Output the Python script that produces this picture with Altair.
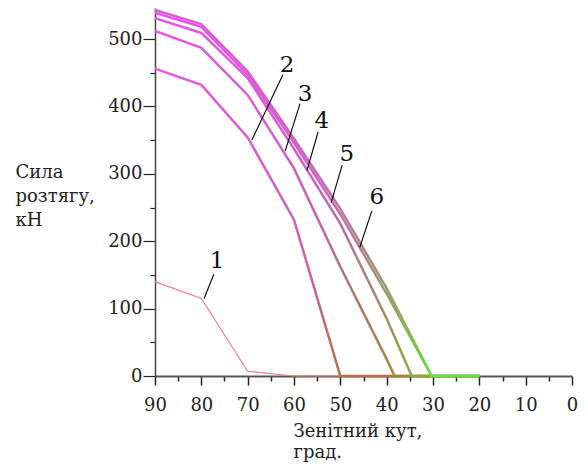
import altair as alt
import pandas as pd

# ---- data ----
angles_1 = [90, 80, 70, 60, 20]
force_1 = [140, 115, 7, 0, 0]

angles_2 = [90, 80, 70, 60, 50, 20]
force_2 = [456, 432, 354, 232, 0, 0]

angles_3 = [90, 80, 70, 60, 50, 40, 38.3, 20]
force_3 = [512, 487, 417, 308, 162, 25, 0, 0]

angles_4 = [90, 80, 70, 60, 50, 40, 34.6, 20]
force_4 = [531, 509, 442, 337, 226, 85, 0, 0]

angles_5 = [90, 80, 70, 60, 50, 40, 30.3, 20]
force_5 = [539, 518, 447, 346, 240, 122, 0, 0]

angles_6 = [90, 80, 70, 60, 50, 40, 30.3, 20]
force_6 = [543, 522, 452, 352, 248, 130, 0, 0]

label_text = ["1", "2", "3", "4", "5", "6"]
label_angle = [76.6, 61.5, 57.6, 54.0, 48.6, 42.1]
label_force = [170, 462, 419, 378, 329, 265]
leader_angle_a = [77.3, 62.4, 58.7, 54.8, 49.6, 43.2]
leader_force_a = [151, 447, 404, 362, 313, 245]
leader_angle_b = [79.4, 69.1, 61.9, 57.2, 52.0, 45.8]
leader_force_b = [115, 350, 334, 305, 257, 191]

SERIF = "DejaVu Serif"

x_axis = alt.Axis(
    values=list(range(0, 91, 5)),
    labelExpr="datum.value % 10 === 0 ? datum.label : ''",
    tickSize={"condition": {"test": "datum.value % 10 !== 0", "value": 5}, "value": 9},
    tickColor="#222", tickWidth=1.5,
    domainColor="#555", domainWidth=2,
    grid=False,
    labelFont=SERIF, labelFontSize=18, labelColor="#222", labelPadding=11,
    labelFlush=False,
    title=["Зенітний кут,", "град."],
    titleFont=SERIF, titleFontSize=18, titleFontWeight="normal", titleColor="#222",
    titleAlign="left", titleAnchor="start", titleBaseline="alphabetic",
    titleX=138, titleY=60, titleLineHeight=21,
)
y_axis = alt.Axis(
    values=list(range(0, 501, 50)),
    labelExpr="datum.value % 100 === 0 ? datum.label : ''",
    tickSize={"condition": {"test": "datum.value % 100 !== 0", "value": 5}, "value": 12},
    tickColor="#222", tickWidth=1.2,
    domainColor="#444", domainWidth=1.5,
    grid=False,
    labelFont=SERIF, labelFontSize=18, labelColor="#222", labelPadding=1,
    labelFlush=False,
    title=["Сила", "розтягу,", "\u2002кН"],
    titleFont=SERIF, titleFontSize=18, titleFontWeight="normal", titleColor="#222",
    titleAngle=0, titleAlign="left", titleAnchor="start", titleBaseline="alphabetic",
    titleX=-140, titleY=169, titleLineHeight=24,
)

xs = alt.Scale(domain=[0, 90], reverse=True, nice=False, zero=False)
ys = alt.Scale(domain=[0, 546], nice=False)
X = alt.X("angle:Q", scale=xs, axis=x_axis)
Y = alt.Y("force:Q", scale=ys, axis=y_axis)


def grad(stops):
    return alt.Gradient(
        gradient="linear",
        stops=[alt.GradientStop(color=c, offset=o) for o, c in stops],
        x1=0, x2=0, y1=0, y2=1,
    )


series = [
    (angles_1, force_1, None, 1.2),
    (angles_2, force_2, [(0, "#e457e4"), (0.5, "#d25fc0"), (0.8, "#c2687e"), (1, "#b8703c")], 2.5),
    (angles_3, force_3, [(0, "#e457e4"), (0.45, "#cc5fc0"), (0.8, "#ad7668"), (1, "#a08a3c")], 2.5),
    (angles_4, force_4, [(0, "#e457e4"), (0.45, "#cc5fc0"), (0.8, "#a2886a"), (1, "#92a83c")], 2.5),
    (angles_5, force_5, [(0, "#e457e4"), (0.45, "#cc62c0"), (0.78, "#9a9a68"), (1, "#66e03c")], 2.5),
    (angles_6, force_6, [(0, "#e457e4"), (0.45, "#cc62c0"), (0.78, "#9a9a68"), (1, "#66e03c")], 2.5),
]

layers = []
for a, f, stops, w in series:
    df = pd.DataFrame({"angle": a, "force": f})
    if stops is None:
        mk = alt.Chart(df).mark_line(stroke="#f07f7f", strokeWidth=w)
    else:
        mk = alt.Chart(df).mark_line(stroke=grad(stops), strokeWidth=w)
    layers.append(mk.encode(x=X, y=Y, order=alt.Order("idx:Q")).transform_window(idx="row_number()"))

lead_df = pd.DataFrame({
    "angle": leader_angle_a, "force": leader_force_a,
    "angle2": leader_angle_b, "force2": leader_force_b,
})
leaders = alt.Chart(lead_df).mark_rule(color="#000", strokeWidth=1.1).encode(
    x=X, y=Y, x2="angle2:Q", y2="force2:Q"
)

lab_df = pd.DataFrame({"angle": label_angle, "force": label_force, "t": label_text})
labels = alt.Chart(lab_df).mark_text(
    font=SERIF, fontSize=23, color="#111", align="center", baseline="middle"
).encode(x=X, y=Y, text="t:N")

chart = alt.layer(*layers, leaders, labels).properties(
    width=417, height=368,
    autosize=alt.AutoSizeParams(type="none"),
    padding={"left": 155, "top": 8, "right": 16, "bottom": 92},
    background="white",
).configure_view(stroke=None)

chart.save("out.html", embed_options={"renderer": "svg", "actions": False})
